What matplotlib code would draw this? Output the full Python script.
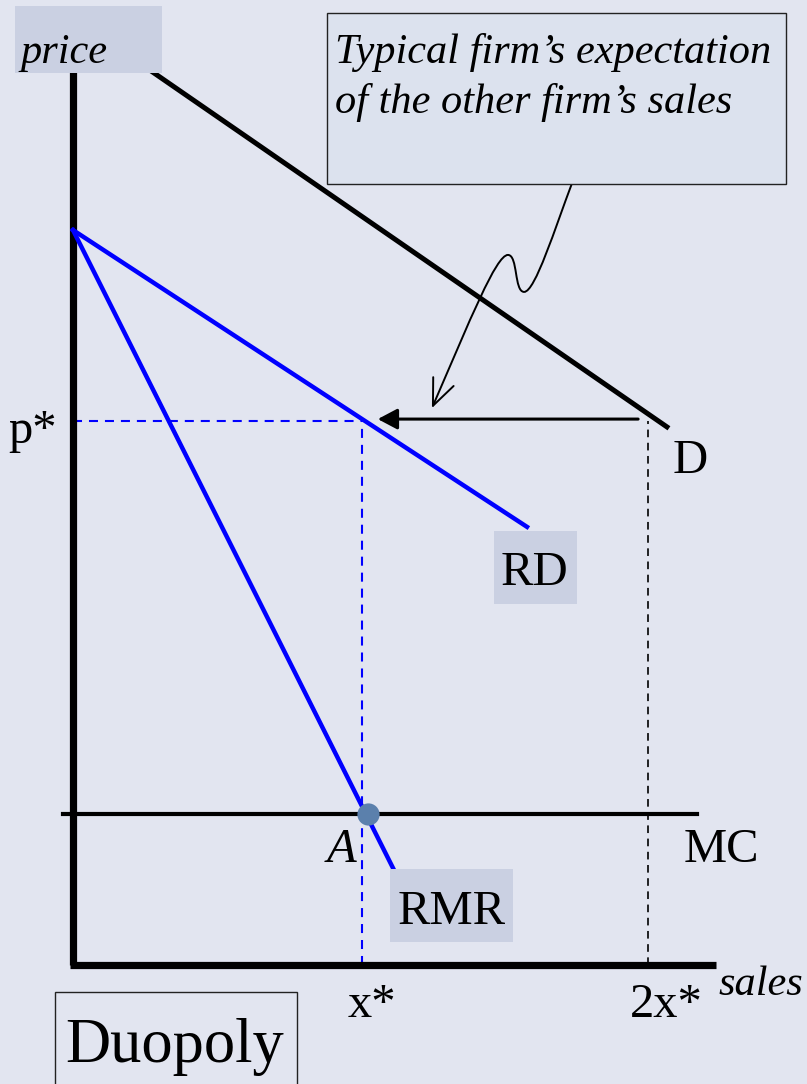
import matplotlib
matplotlib.use("Agg")
import matplotlib.pyplot as plt
from matplotlib.patches import Rectangle, FancyArrowPatch
from matplotlib.path import Path

plt.rcParams["font.family"] = ["Liberation Serif", "DejaVu Serif"]
plt.rcParams["lines.scale_dashes"] = False

# diagram values (x* = 1 sales unit; price in the same drawing units)
x_star = 1.0
two_x_star = 1.99
p_star = 1.882
mc_level = 0.522
choke_price = 2.543                 # where RD and RMR meet the price axis
rd_end = (1.571, 1.516)
rmr_end = (1.107, 0.336)
d_start = (0.0, 3.28)
d_end = (2.055, 1.862)
price_axis_top = 3.1
sales_axis_right = 2.225
mc_span = (-0.035, 2.159)
point_a = (1.021, mc_level)
shift_arrow_x = (1.965, 1.045)
shift_arrow_y = 1.889

BG = "#E2E5F0"
LABEL_BOX = "#CAD0E2"
NOTE_BOX = "#DCE2EE"
BLUE = "#0000FF"

fig = plt.figure(figsize=(8.07, 10.84), dpi=100, facecolor=BG)
ax = fig.add_axes([0, 0, 1, 1])
ax.set_facecolor(BG)
ax.set_xlim(-73 / 289, 734 / 289)
ax.set_ylim(-119 / 289, 965 / 289)
ax.axis("off")

# axes of the diagram
ax.plot([0, 0], [0, price_axis_top], color="black", lw=5.2, solid_capstyle="butt", zorder=3)
ax.plot([-0.01, sales_axis_right], [0, 0], color="black", lw=5.2, solid_capstyle="butt", zorder=3)

# market demand D
ax.plot([d_start[0], d_end[0]], [d_start[1], d_end[1]], color="black", lw=3.6, zorder=2)

# residual demand and residual marginal revenue
ax.plot([0, rd_end[0]], [choke_price, rd_end[1]], color=BLUE, lw=3.2, zorder=4)
ax.plot([0, rmr_end[0]], [choke_price, rmr_end[1]], color=BLUE, lw=3.2, zorder=4)

# MC
ax.plot(mc_span, [mc_level, mc_level], color="black", lw=3.0, zorder=3)

# dashed guides
ax.plot([0, x_star], [p_star, p_star], color=BLUE, lw=1.5, dashes=(6.5, 5), zorder=2)
ax.plot([x_star, x_star], [0, p_star], color=BLUE, lw=1.5, dashes=(6.5, 5), zorder=2)
ax.plot([two_x_star, two_x_star], [0, p_star], color="black", lw=1.2, dashes=(5.5, 4), zorder=2)

# expectation shift arrow
ax.annotate("", xy=(shift_arrow_x[1], shift_arrow_y), xytext=(shift_arrow_x[0], shift_arrow_y),
            arrowprops=dict(arrowstyle="-|>,head_length=0.85,head_width=0.45",
                            color="black", lw=2.2, mutation_scale=14), zorder=5)

# point A
ax.plot(*point_a, marker="o", ms=16, color="#5B80AC", mec="none", zorder=6)

# curly pointer from the note box
verts = [(1.727, 2.706), (1.668, 2.550), (1.599, 2.329), (1.561, 2.329),
         (1.526, 2.329), (1.540, 2.457), (1.505, 2.457),
         (1.464, 2.457), (1.374, 2.232), (1.242, 1.927)]
codes = [Path.MOVETO] + [Path.CURVE4] * 9
ax.add_patch(FancyArrowPatch(path=Path(verts, codes),
                             arrowstyle="->,head_length=19,head_width=8",
                             mutation_scale=1, color="black", lw=1.4, zorder=5))

# label boxes
ax.add_patch(Rectangle((-0.201, 3.087), 0.509, 0.231, facecolor=LABEL_BOX, edgecolor="none", zorder=7))
ax.text(-0.180, 3.121, "price", fontsize=30.5, style="italic", va="baseline", zorder=8)

ax.add_patch(Rectangle((0.879, 2.702), 1.588, 0.592, facecolor=NOTE_BOX, edgecolor="#222222",
                       lw=1.0, zorder=7))
ax.text(0.905, (965 - 63) / 289, "Typical firm\u2019s expectation", fontsize=30.5, style="italic",
        va="baseline", zorder=8)
ax.text(0.905, (965 - 113) / 289, "of the other firm\u2019s sales", fontsize=30.5, style="italic",
        va="baseline", zorder=8)

ax.add_patch(Rectangle((1.457, 1.249), 0.287, 0.253, facecolor=LABEL_BOX, edgecolor="none", zorder=7))
ax.text(1.598, 1.315, "RD", fontsize=35, ha="center", va="baseline", zorder=8)

ax.add_patch(Rectangle((1.097, 0.080), 0.425, 0.252, facecolor=LABEL_BOX, edgecolor="none", zorder=7))
ax.text(1.309, 0.142, "RMR", fontsize=35, ha="center", va="baseline", zorder=8)

ax.text(-0.055, 1.806, "p*", fontsize=35, ha="right", va="baseline")
ax.text(2.073, 1.702, "D", fontsize=35, va="baseline")
ax.text(2.114, 0.356, "MC", fontsize=35, va="baseline")
ax.text(0.876, 0.356, "A", fontsize=35, style="italic", va="baseline")
ax.text(1.035, -0.180, "x*", fontsize=35, ha="center", va="baseline")
ax.text(2.052, -0.180, "2x*", fontsize=35, ha="center", va="baseline")
ax.text(2.232, -0.104, "sales", fontsize=30.5, style="italic", va="baseline")

ax.add_patch(Rectangle((-0.062, -0.45), 0.837, 0.357, facecolor=BG, edgecolor="#222222", lw=1.0,
                       zorder=7, clip_on=False))
ax.text(-0.028, -0.336, "Duopoly", fontsize=45, va="baseline", zorder=8)

fig.savefig("out.png", dpi=100, facecolor=BG)
